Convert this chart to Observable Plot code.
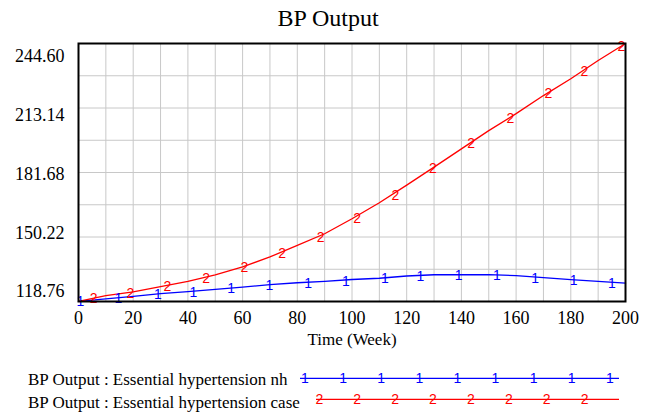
<!DOCTYPE html>
<html><head><meta charset="utf-8">
<script src="https://cdn.jsdelivr.net/npm/d3@7"></script>
<script src="https://cdn.jsdelivr.net/npm/@observablehq/plot@0.6"></script>
<style>
body{margin:0;background:#fff;font-family:"Liberation Serif","Times New Roman",serif;}
#title{width:656px;height:36px;line-height:36px;font-size:24px;text-align:center;color:#000;}
#chart svg,#legend svg{display:block;}
</style></head><body>
<div id="title">BP Output</div>
<div id="chart"></div>
<div id="legend"></div>
<script>
// ---- data ----
const titleText = "BP Output";
const xLabel = "Time (Week)";
const seriesNames = ["BP Output : Essential hypertension nh", "BP Output : Essential hypertension case"];
const seriesSymbols = ["1", "2"];
const seriesColors = ["#0000ff", "#ff0000"];
const weeks = [0,10,20,30,40,50,60,70,80,90,100,110,120,130,140,150,160,170,180,190,200];
const nhValues = [118.8,120.0,121.3,122.6,123.6,124.7,125.8,127.0,127.9,128.6,129.5,130.1,131.2,131.8,131.8,131.9,131.4,130.4,129.4,128.6,127.7];
const caseValues = [118.8,121.6,123.5,126.0,128.6,131.7,135.6,140.5,146.1,151.8,159.1,166.9,175.5,184.3,193.2,202.1,210.4,219.2,227.4,236.3,244.6];
const nhMarkerWeeks = [0.7,14.6,29,42,55.8,69.8,84,97.8,112,125,139,153,167,181,195];
const nhMarkerValues = [119.0,120.6,122.5,123.8,125.4,127.0,128.2,129.2,130.3,131.6,131.8,131.9,130.6,129.3,128.2];
const caseMarkerWeeks = [5.5,19,32.5,46.7,60.7,74.5,88.5,101.9,115.9,129.6,143.6,157.9,171.8,185,198.5];
const caseMarkerValues = [120.7,123.3,126.6,130.6,136.0,142.6,150.3,159.6,171.0,184.0,196.4,208.6,220.8,231.4,243.6];
const yTicks = [118.76,150.22,181.68,213.14,244.60];
const xTicks = [0,20,40,60,80,100,120,140,160,180,200];

// ---- chart ----
const yMin = 118.76, yMax = 244.60, yRange = yMax - yMin;
const yGrid = d3.range(9).map(i => yMin + i * yRange / 8);
const xGrid = d3.range(0, 201, 10);
const nhRows = weeks.map((w, i) => ({week: w, value: nhValues[i]}));
const caseRows = weeks.map((w, i) => ({week: w, value: caseValues[i]}));
const nhMarks = nhMarkerWeeks.map((w, i) => ({week: w, value: nhMarkerValues[i]}));
const caseMarks = caseMarkerWeeks.map((w, i) => ({week: w, value: caseMarkerValues[i]}));
// Y labels are spread slightly inside the frame (as in the original)
const frameH = 258;
const labelPos = v => yMin + (v - yMin) * (235 / frameH) + 10 * (yRange / frameH);
const sans = "'Liberation Sans', Arial, sans-serif";
const serif = "'Liberation Serif', 'Times New Roman', serif";

const chart = Plot.plot({
  width: 656, height: 320,
  marginLeft: 78, marginRight: 31, marginTop: 7, marginBottom: 55,
  style: {fontFamily: serif, color: "#000", background: "#fff"},
  x: {domain: [0, 200], axis: null},
  y: {domain: [yMin, yMax], axis: null},
  marks: [
    Plot.gridX(xGrid, {stroke: "#c8c8c8", strokeOpacity: 1, strokeWidth: 1}),
    Plot.gridY(yGrid, {stroke: "#c8c8c8", strokeOpacity: 1, strokeWidth: 1}),
    Plot.line(nhRows, {x: "week", y: "value", stroke: seriesColors[0], strokeWidth: 1.3}),
    Plot.line(caseRows, {x: "week", y: "value", stroke: seriesColors[1], strokeWidth: 1.3}),
    Plot.text(nhMarks, {x: "week", y: "value", text: () => seriesSymbols[0], fill: seriesColors[0], fontFamily: sans, fontSize: 14, dy: 1}),
    Plot.text(caseMarks, {x: "week", y: "value", text: () => seriesSymbols[1], fill: seriesColors[1], fontFamily: sans, fontSize: 14, dy: 1}),
    Plot.frame({stroke: "#000", strokeWidth: 2}),
    Plot.axisX(xTicks, {tickSize: 0, tickPadding: 10, fontSize: 18, fontFamily: serif, label: null, fill: "#000"}),
    Plot.text(yTicks, {y: d => labelPos(d), text: d => d.toFixed(2), frameAnchor: "left", dx: -14, textAnchor: "end", fontSize: 18, fontFamily: serif, fill: "#000"}),
    Plot.text([xLabel], {frameAnchor: "bottom", dy: 43, fontSize: 17, fontFamily: serif, fill: "#000"})
  ]
});
document.getElementById("chart").appendChild(chart);

// ---- legend ----
const leg = d3.select("#legend").append("svg").attr("width", 656).attr("height", 58);
const legendRows = [
  {lineY: 22.3, textY: 29, x0: 300, x1: 619, m0: 305, step: 38.1, n: 9},
  {lineY: 43.3, textY: 52, x0: 316, x1: 619, m0: 319.3, step: 37.9, n: 8}
];
legendRows.forEach((r, i) => {
  leg.append("text").attr("x", 28).attr("y", r.textY).attr("font-size", 17)
    .attr("font-family", serif).attr("fill", "#000").text(seriesNames[i]);
  leg.append("line").attr("x1", r.x0).attr("x2", r.x1).attr("y1", r.lineY).attr("y2", r.lineY)
    .attr("stroke", seriesColors[i]).attr("stroke-width", 1.3);
  for (let k = 0; k < r.n; k++) {
    leg.append("text").attr("x", r.m0 + k * r.step).attr("y", r.lineY).attr("dy", "0.36em")
      .attr("text-anchor", "middle").attr("font-family", sans).attr("font-size", 14)
      .attr("fill", seriesColors[i]).text(seriesSymbols[i]);
  }
});
</script>
</body></html>
